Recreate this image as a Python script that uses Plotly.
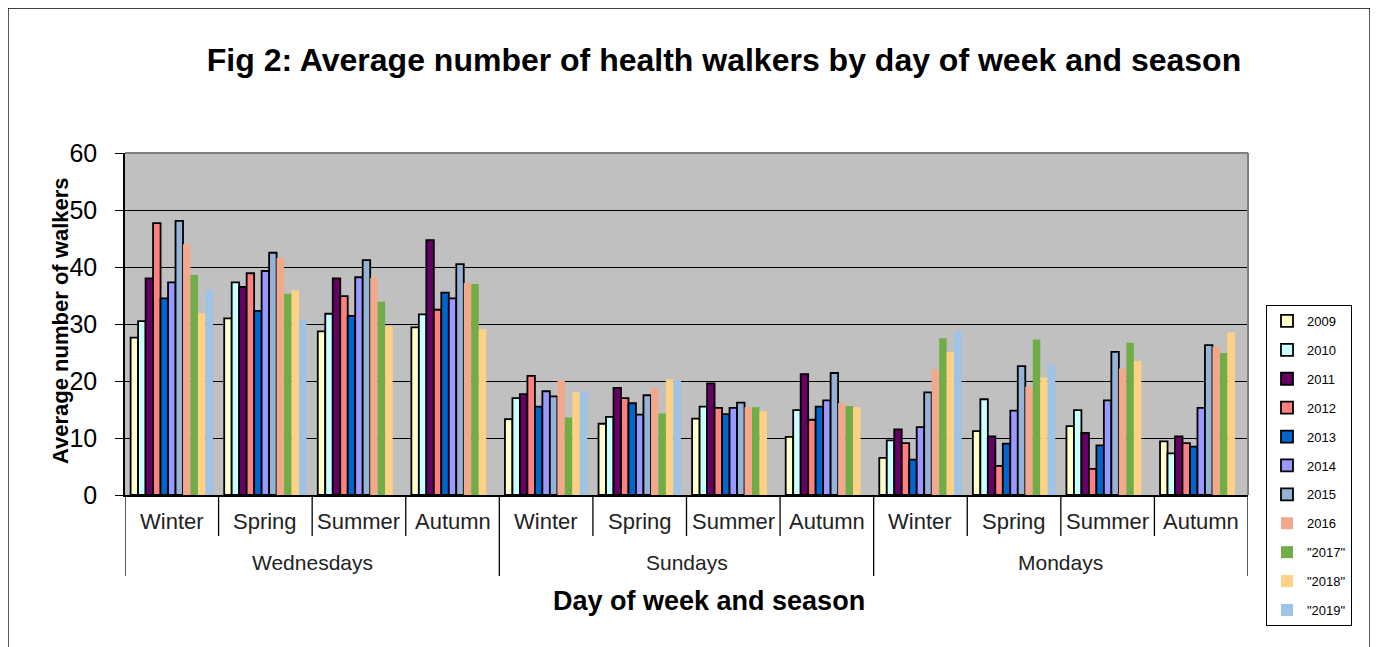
import plotly.graph_objects as go

days = ["Wednesdays", "Sundays", "Mondays"]
seasons = ["Winter", "Spring", "Summer", "Autumn"]
categories = [f"{d} {s}" for d in days for s in seasons]

years = ["2009", "2010", "2011", "2012", "2013", "2014", "2015",
         "2016", "\"2017\"", "\"2018\"", "\"2019\""]

# values per year, order: Wed W,Sp,Su,Au | Sun W,Sp,Su,Au | Mon W,Sp,Su,Au
v2009 = [27.6, 31.0, 28.7, 29.4, 13.3, 12.5, 13.4, 10.2, 6.5, 11.2, 12.1, 9.4]
v2010 = [30.5, 37.3, 31.8, 31.7, 17.0, 13.7, 15.5, 14.9, 9.6, 16.8, 14.9, 7.3]
v2011 = [38.0, 36.5, 38.0, 44.7, 17.7, 18.8, 19.6, 21.2, 11.5, 10.3, 10.9, 10.3]
v2012 = [47.7, 38.9, 34.9, 32.5, 20.9, 17.0, 15.3, 13.2, 9.1, 5.1, 4.6, 9.1]
v2013 = [34.5, 32.3, 31.4, 35.5, 15.5, 16.1, 14.2, 15.5, 6.2, 9.0, 8.7, 8.5]
v2014 = [37.3, 39.3, 38.2, 34.5, 18.2, 14.1, 15.3, 16.6, 11.9, 14.8, 16.6, 15.3]
v2015 = [48.1, 42.5, 41.2, 40.5, 17.3, 17.5, 16.2, 21.4, 18.0, 22.6, 25.1, 26.3]
v2016 = [44.0, 41.6, 38.1, 37.2, 20.2, 18.8, 15.4, 16.1, 22.0, 19.0, 22.2, 26.0]
v2017 = [38.6, 35.3, 33.9, 37.0, 13.6, 14.3, 15.4, 15.6, 27.5, 27.3, 26.7, 24.9]
v2018 = [31.9, 35.9, 29.6, 29.1, 18.0, 20.3, 14.7, 15.4, 25.1, 20.6, 23.5, 28.5]
v2019 = [35.9, 30.8, None, None, 18.2, 20.0, None, None, 28.7, 22.9, None, None]

series = [v2009, v2010, v2011, v2012, v2013, v2014, v2015,
          v2016, v2017, v2018, v2019]
colors = ["#FFFFCC", "#CCFFFF", "#660066", "#FF8080", "#0066CC", "#9999FF",
          "#95B3D7", "#F2A88B", "#70AD47", "#FFD185", "#9DC3E6"]
outlined = [True] * 7 + [False] * 4

FONT = "Arial, Liberation Sans, sans-serif"

fig = go.Figure()
for name, vals, col, ol in zip(years, series, colors, outlined):
    fig.add_trace(go.Bar(
        x=categories, y=vals, name=name, legendgroup=name,
        marker=dict(color=col, line=dict(color="black", width=1.8 if ol else 0)),
    ))

# page offset (body margin) compensation
OFF = 8
# plot area pixel geometry in the reference picture
L, R, T, B = 125, 1248, 153, 495
W, H = 1378, 647
PH = B - T

def py(p):
    return (B - p) / PH

def px(p):
    return (p - L) / (R - L)

shapes = []
# season boundary ticks
for b in [0.5, 1.5, 2.5, 4.5, 5.5, 6.5, 8.5, 9.5, 10.5]:
    shapes.append(dict(type="line", xref="x", yref="paper", x0=b, x1=b,
                       y0=0, y1=py(536), line=dict(color="black", width=1.3)))
# day dividers
for b in [-0.5, 3.5, 7.5, 11.5]:
    shapes.append(dict(type="line", xref="x", yref="paper", x0=b, x1=b,
                       y0=0, y1=py(576), line=dict(color="black", width=1.3)))
# plot area top/right border (grey)
shapes.append(dict(type="line", xref="paper", yref="paper", x0=0, x1=1, y0=1, y1=1,
                   line=dict(color="#808080", width=2)))
shapes.append(dict(type="line", xref="paper", yref="paper", x0=1, x1=1, y0=0, y1=1,
                   line=dict(color="#808080", width=2)))
# outer chart border
shapes.append(dict(type="rect", xref="paper", yref="paper",
                   x0=px(8), x1=px(1370), y0=py(690), y1=py(8),
                   line=dict(color="black", width=1.3), layer="below"))

annotations = []
for i, c in enumerate(categories):
    d, s = c.split(" ")
    annotations.append(dict(x=i, y=py(521), xref="x", yref="paper", text=s,
                            showarrow=False, font=dict(size=22, color="#222", family=FONT),
                            xanchor="center", yanchor="middle"))
for j, d in enumerate(days):
    annotations.append(dict(x=4 * j + 1.5, y=py(562), xref="x", yref="paper", text=d,
                            showarrow=False, font=dict(size=21, color="#222", family=FONT),
                            xanchor="center", yanchor="middle"))
annotations.append(dict(x=px(709), y=py(601), xref="paper", yref="paper",
                        text="<b>Day of week and season</b>", showarrow=False,
                        font=dict(size=27, color="black", family=FONT),
                        xanchor="center", yanchor="middle"))
annotations.append(dict(x=px(60), y=py(321), xref="paper", yref="paper",
                        text="<b>Average number of walkers</b>", showarrow=False,
                        textangle=-90,
                        font=dict(size=22, color="black", family=FONT),
                        xanchor="center", yanchor="middle"))

fig.update_layout(
    width=W, height=H,
    margin=dict(l=L - OFF, r=W - (R - OFF), t=T - OFF, b=H - (B - OFF)),
    paper_bgcolor="white",
    plot_bgcolor="#C0C0C0",
    font=dict(family=FONT, color="black"),
    title=dict(text="<b>Fig 2: Average number of health walkers by day of week and season</b>",
               x=px(724), xref="paper", xanchor="center",
               y=1 - (60 - OFF) / H, yref="container", yanchor="middle",
               font=dict(size=32, color="black", family=FONT)),
    barmode="group", bargap=0.12, bargroupgap=0,
    xaxis=dict(type="category", showticklabels=False, ticks="",
               showline=True, linecolor="black", linewidth=1.5,
               showgrid=False, zeroline=False, range=[-0.5, 11.5]),
    yaxis=dict(range=[0, 60], dtick=10, showgrid=True, gridcolor="black",
               gridwidth=1, zeroline=False, showline=True, linecolor="black",
               linewidth=1.5, ticks="outside", ticklen=8, tickcolor="black",
               ticklabelstandoff=13,
               tickfont=dict(size=25, color="black", family=FONT)),
    showlegend=True,
    legend=dict(x=px(1266), y=py(305), xanchor="left", yanchor="top",
                bgcolor="white", bordercolor="black", borderwidth=1,
                font=dict(size=13, color="black", family=FONT),
                tracegroupgap=9, itemwidth=30, traceorder="grouped"),
    shapes=shapes,
    annotations=annotations,
)

fig.write_html("out.html")
